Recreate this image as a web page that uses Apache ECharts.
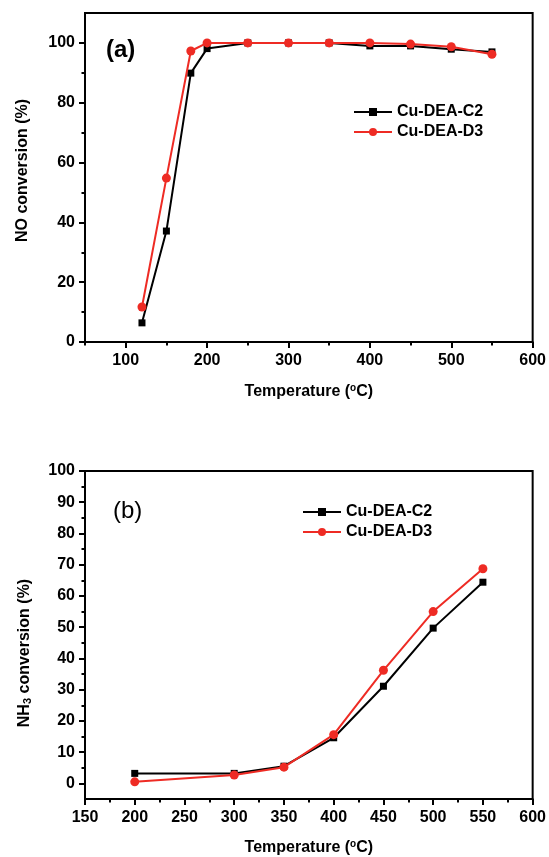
<!DOCTYPE html>
<html>
<head>
<meta charset="utf-8">
<script src="https://cdn.jsdelivr.net/npm/echarts@6/dist/echarts.min.js"></script>
<style>
  html, body { margin: 0; padding: 0; background: #fff; }
  #chart { width: 549px; height: 857px; }
</style>
</head>
<body>
<div id="chart"></div>
<script>
// Panel (a): NO conversion vs temperature
const noTemps = [120, 150, 180, 200, 250, 300, 350, 400, 450, 500, 550];
const noC2 = [6.4, 37.1, 89.9, 98.1, 100, 100, 100, 99.0, 99.0, 97.9, 97.0];
const noD3 = [11.7, 54.8, 97.3, 100, 100, 100, 100, 100, 99.6, 98.7, 96.2];

// Panel (b): NH3 conversion vs temperature
const nh3Temps = [200, 300, 350, 400, 450, 500, 550];
const nh3C2 = [3.2, 3.2, 5.5, 14.6, 31.1, 49.7, 64.4];
const nh3D3 = [0.5, 2.7, 5.2, 15.6, 36.2, 55.0, 68.7];

// Tick positions
const noTicksX = [100, 200, 300, 400, 500, 600];
const noMinorX = [50, 150, 250, 350, 450, 550];
const noTicksY = [0, 20, 40, 60, 80, 100];
const noMinorY = [10, 30, 50, 70, 90];
const nh3TicksX = [150, 200, 250, 300, 350, 400, 450, 500, 550, 600];
const nh3MinorX = [175, 225, 275, 325, 375, 425, 475, 525, 575];
const nh3TicksY = [0, 10, 20, 30, 40, 50, 60, 70, 80, 90, 100];
const nh3MinorY = [5, 15, 25, 35, 45, 55, 65, 75, 85, 95];

const seriesNames = ['Cu-DEA-C2', 'Cu-DEA-D3'];
const RED = '#ee2b24';
const FONT = '"Liberation Sans", Arial, sans-serif';

const pairs = (xs, ys) => xs.map((x, i) => [x, ys[i]]);

const tickLabel = { color: '#000', fontFamily: FONT, fontWeight: 'bold', fontSize: 16 };
const nameStyle = {
  color: '#000', fontFamily: FONT, fontWeight: 'bold', fontSize: 16,
  rich: {
    sup: { fontFamily: FONT, fontWeight: 'bold', fontSize: 10, verticalAlign: 'top', padding: [0, 0, 8, 0], color: '#000' },
    sub: { fontFamily: FONT, fontWeight: 'bold', fontSize: 11, verticalAlign: 'bottom', padding: [6, 0, 0, 0], color: '#000' }
  }
};

function mainX(grid, min, max, ticks, name, gap) {
  return {
    type: 'value', gridIndex: grid, position: 'bottom', min, max,
    name, nameLocation: 'middle', nameGap: gap, nameTextStyle: nameStyle,
    axisLine: { show: true, onZero: false, lineStyle: { color: '#000', width: 2 } },
    axisTick: { show: true, inside: false, length: 6, customValues: ticks, lineStyle: { color: '#000', width: 2 } },
    axisLabel: Object.assign({ margin: 11, customValues: ticks }, tickLabel),
    splitLine: { show: false }
  };
}
function minorX(grid, min, max, ticks) {
  return {
    type: 'value', gridIndex: grid, position: 'bottom', min, max,
    axisLine: { show: false, onZero: false },
    axisTick: { show: true, inside: false, length: 3.5, customValues: ticks, lineStyle: { color: '#000', width: 2 } },
    axisLabel: { show: false },
    splitLine: { show: false }
  };
}
function mainY(grid, min, max, ticks, name, gap, pad) {
  return {
    type: 'value', gridIndex: grid, position: 'left', min, max,
    name, nameLocation: 'middle', nameGap: gap,
    nameTextStyle: Object.assign({ padding: pad }, nameStyle),
    axisLine: { show: true, onZero: false, lineStyle: { color: '#000', width: 2 } },
    axisTick: { show: true, inside: false, length: 6, customValues: ticks, lineStyle: { color: '#000', width: 2 } },
    axisLabel: Object.assign({ margin: 10, customValues: ticks }, tickLabel),
    splitLine: { show: false }
  };
}
function minorY(grid, min, max, ticks) {
  return {
    type: 'value', gridIndex: grid, position: 'left', min, max,
    axisLine: { show: false, onZero: false },
    axisTick: { show: true, inside: false, length: 3.5, customValues: ticks, lineStyle: { color: '#000', width: 2 } },
    axisLabel: { show: false },
    splitLine: { show: false }
  };
}

function lineSeries(name, data, color, symbol, size, xi, yi) {
  return {
    name, type: 'line', data, xAxisIndex: xi, yAxisIndex: yi,
    symbol, symbolSize: size, showSymbol: true,
    lineStyle: { color, width: 2 },
    itemStyle: { color },
    z: name === seriesNames[1] ? 3 : 2
  };
}

const legendBase = {
  orient: 'vertical', itemWidth: 38, itemHeight: 10, itemGap: 2,
  textStyle: { color: '#000', fontFamily: FONT, fontWeight: 'bold', fontSize: 16, lineHeight: 18 },
  data: seriesNames, selectedMode: false
};

const chart = echarts.init(document.getElementById('chart'), null, { renderer: 'canvas' });
chart.setOption({
  animation: false,
  backgroundColor: '#fff',
  title: [
    { text: '(a)', left: 101, top: 33, textStyle: { color: '#000', fontFamily: FONT, fontWeight: 'bold', fontSize: 24 } },
    { text: '(b)', left: 108, top: 494, textStyle: { color: '#000', fontFamily: FONT, fontWeight: 'normal', fontSize: 24 } }
  ],
  legend: [
    Object.assign({ left: 348, top: 98 }, legendBase),
    Object.assign({ left: 297, top: 498 }, legendBase)
  ],
  grid: [
    { left: 85, right: 15, top: 13, height: 329, show: true, borderColor: '#000', borderWidth: 2, backgroundColor: 'transparent' },
    { left: 85, right: 15, top: 471, height: 329, show: true, borderColor: '#000', borderWidth: 2, backgroundColor: 'transparent' }
  ],
  xAxis: [
    mainX(0, 50, 600, noTicksX, 'Temperature ({sup|o}C)', 41),
    mainX(1, 150, 600, nh3TicksX, 'Temperature ({sup|o}C)', 40),
    minorX(0, 50, 600, noMinorX),
    minorX(1, 150, 600, nh3MinorX)
  ],
  yAxis: [
    mainY(0, 0, 110, noTicksY, 'NO conversion (%)', 54, [0, 0, 0, 14]),
    mainY(1, -5, 100, nh3TicksY, 'NH{sub|3} conversion (%)', 52, [0, 36, 0, 0]),
    minorY(0, 0, 110, noMinorY),
    minorY(1, -5, 100, nh3MinorY)
  ],
  series: [
    lineSeries(seriesNames[0], pairs(noTemps, noC2), '#000', 'rect', 7, 0, 0),
    lineSeries(seriesNames[1], pairs(noTemps, noD3), RED, 'circle', 9, 0, 0),
    lineSeries(seriesNames[0], pairs(nh3Temps, nh3C2), '#000', 'rect', 7, 1, 1),
    lineSeries(seriesNames[1], pairs(nh3Temps, nh3D3), RED, 'circle', 9, 1, 1)
  ]
});
</script>
</body>
</html>
